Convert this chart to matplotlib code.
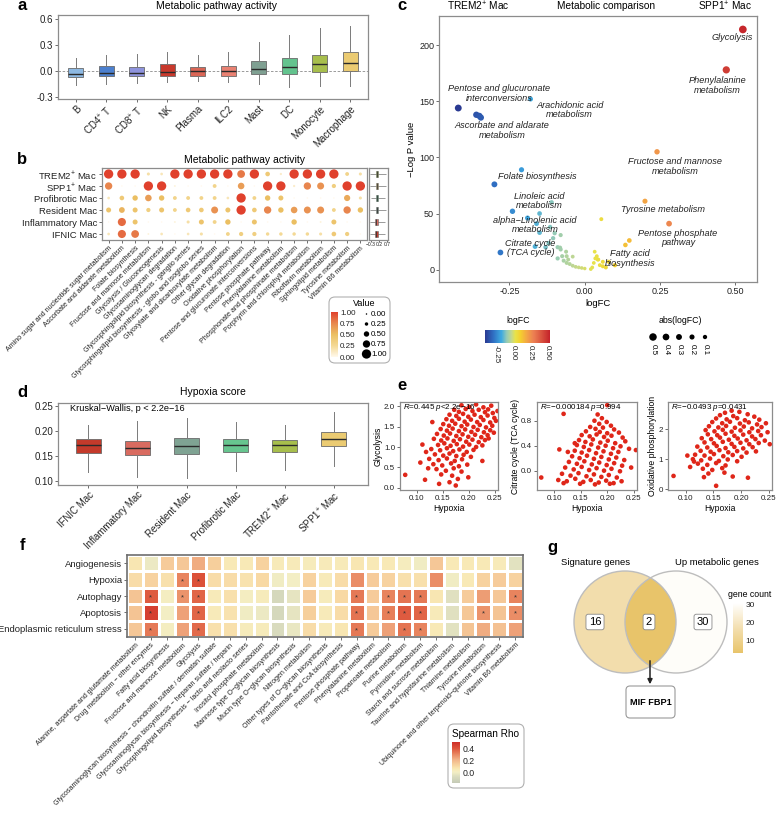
import numpy as np
import matplotlib
matplotlib.use('Agg')
import matplotlib.pyplot as plt
from matplotlib.colors import LinearSegmentedColormap, Normalize
from matplotlib.cm import ScalarMappable
from matplotlib.patches import Circle, FancyBboxPatch
from matplotlib.ticker import FormatStrFormatter

plt.rcParams['font.family'] = ['Liberation Sans', 'DejaVu Sans']
plt.rcParams['mathtext.fontset'] = 'custom'
plt.rcParams['mathtext.rm'] = 'Liberation Sans'
plt.rcParams['mathtext.it'] = 'Liberation Sans:italic'
plt.rcParams['axes.edgecolor'] = '#8c8c8c'
plt.rcParams['axes.linewidth'] = 0.9
plt.rcParams['xtick.color'] = '#555555'
plt.rcParams['ytick.color'] = '#555555'
plt.rcParams['xtick.labelcolor'] = '#222222'
plt.rcParams['ytick.labelcolor'] = '#222222'

# ---------------- data ----------------
# a: pathway activity per cell type (box stats)
a_cells = ['B', 'CD4$^{+}$ T', 'CD8$^{+}$ T', 'NK', 'Plasma', 'ILC2', 'Mast', 'DC', 'Monocyte', 'Macrophage']
a_med = [-0.04, -0.02, -0.02, -0.01, 0.0, 0.0, 0.02, 0.05, 0.08, 0.09]
a_q1 = [-0.07, -0.06, -0.06, -0.06, -0.06, -0.06, -0.03, -0.04, -0.01, 0.0]
a_q3 = [0.03, 0.06, 0.05, 0.08, 0.05, 0.06, 0.12, 0.15, 0.19, 0.22]
a_lo = [-0.16, -0.15, -0.14, -0.13, -0.12, -0.13, -0.15, -0.18, -0.17, -0.17]
a_hi = [0.15, 0.18, 0.20, 0.22, 0.19, 0.22, 0.33, 0.41, 0.50, 0.52]
a_colors = ['#8DB9E3', '#4C80CF', '#8E93DD', '#C8392C', '#DA6656', '#E98172',
            '#7FA092', '#63C38E', '#A7BE4C', '#EBCB72']

# b: dot matrix of pathway activity in macrophage subsets
b_rows = ['TREM2$^{+}$ Mac', 'SPP1$^{+}$ Mac', 'Profibrotic Mac', 'Resident Mac',
          'Inflammatory Mac', 'IFNIC Mac']
b_paths = ['Amino sugar and nucleotide sugar metabolism', 'Ascorbate and aldarate metabolism',
           'Folate biosynthesis', 'Fructose and mannose metabolism', 'Glycolysis / Gluconeogenesis',
           'Glycosaminoglycan degradation', 'Glycosphingolipid biosynthesis - ganglio series',
           'Glycosphingolipid biosynthesis - globo and isoglobo series',
           'Glyoxylate and dicarboxylate metabolism', 'Other glycan degradation',
           'Oxidative phosphorylation', 'Pentose and glucuronate interconversions',
           'Pentose phosphate pathway', 'Phenylalanine metabolism',
           'Phosphonate and phosphinate metabolism', 'Porphyrin and chlorophyll metabolism',
           'Riboflavin metabolism', 'Sphingolipid metabolism', 'Tyrosine metabolism',
           'Vitamin B6 metabolism']
b_trem2 = [1.0, 1.0, 1.0, 0.2, 0.15, 1.0, 1.0, 1.0, 1.0, 1.0, 0.8, 1.0, 0.4, 0.1, 1.0, 1.0, 1.0, 1.0, 0.3, 0.2]
b_spp1 = [0.75, 0.0, 0.0, 1.0, 1.0, 0.05, 0.0, 0.0, 0.3, 0.0, 0.65, 0.0, 1.0, 1.0, 0.1, 0.75, 0.7, 0.35, 1.0, 1.0]
b_profib = [0.15, 0.4, 0.5, 0.65, 0.5, 0.3, 0.3, 0.3, 0.3, 0.15, 1.0, 0.3, 0.5, 0.45, 0.0, 0.0, 0.0, 0.0, 0.6, 0.2]
b_resident = [0.45, 0.55, 0.45, 0.35, 0.45, 0.3, 0.4, 0.4, 0.7, 0.45, 1.0, 0.4, 0.75, 0.5, 0.65, 0.7, 0.7, 0.3, 0.75, 0.5]
b_inflam = [0.0, 0.85, 0.45, 0.0, 0.0, 0.05, 0.2, 0.45, 0.3, 0.5, 0.0, 0.45, 0.0, 0.0, 0.5, 0.0, 0.05, 0.45, 0.0, 0.0]
b_ifnic = [0.15, 0.85, 0.8, 0.05, 0.15, 0.0, 0.15, 0.2, 0.0, 0.3, 0.35, 0.35, 0.25, 0.25, 0.25, 0.25, 0.2, 0.4, 0.35, 0.0]
# small side boxplots per subset
side_med = [0.07, 0.05, 0.06, 0.05, 0.03, 0.03]
side_q1 = [0.0, -0.02, -0.01, -0.02, -0.03, -0.04]
side_q3 = [0.14, 0.12, 0.13, 0.12, 0.10, 0.10]
side_lo = [-0.35, -0.33, -0.32, -0.33, -0.34, -0.36]
side_hi = [0.62, 0.60, 0.58, 0.60, 0.55, 0.55]
mac_colors = ['#A7BE4C', '#EBCB72', '#67C58F', '#7FA393', '#D96B60', '#C43A2B']

# c: metabolic comparison (logFC vs -log P)
c_logfc = [0.525, 0.47, -0.18, -0.42, -0.36, -0.35, -0.345, 0.24, -0.21, -0.30, 0.20, 0.28, 0.148,
           0.135, -0.11, -0.24, -0.19, -0.15, -0.16, -0.15, -0.165, -0.28, 0.055,
           -0.115, -0.10, -0.08, -0.12, -0.105, -0.09, -0.08, -0.075, -0.09, -0.07, -0.06, -0.05,
           -0.04, -0.03, -0.02, -0.01, 0.0, -0.06, -0.055, -0.13, -0.082, -0.062, -0.04,
           0.033, 0.043, 0.08, 0.03, 0.05, 0.04, 0.045, 0.06, 0.07, 0.1, 0.025, 0.02, 0.035, 0.06]
c_logp = [214, 178, 152, 144, 138, 137, 135.5, 105, 89, 76, 61, 41, 26,
          22, 60, 52, 46, 50, 41, 33, 20.6, 15.3, 45,
          38, 32.5, 30.8, 23.6, 28, 20, 18, 12, 10, 8, 6, 5,
          3.5, 2.5, 2, 1.5, 1, 12, 9, 20, 19.6, 16, 11.6,
          16, 9, 7, 6, 4, 12, 9, 3, 2, 4, 2, 0.5, 10, 7]
c_names = ['Glycolysis', 'Phenylalanine\nmetabolism', 'Pentose and glucuronate\ninterconversions',
           'Arachidonic acid\nmetabolism', 'Ascorbate and aldarate\nmetabolism',
           'Fructose and mannose\nmetabolism', 'Folate biosynthesis', 'Tyrosine metabolism',
           'Pentose phosphate\npathway', 'Linoleic acid\nmetabolism',
           'alpha\u2212Linolenic acid\nmetabolism', 'Citrate cycle\n(TCA cycle)', 'Fatty acid\nbiosynthesis']
c_name_pos = [(0.49, 207), (0.44, 164), (-0.285, 157), (-0.05, 142), (-0.275, 124), (0.30, 92),
              (-0.158, 83), (0.26, 54), (0.31, 28), (-0.15, 61), (-0.165, 40), (-0.18, 19.5),
              (0.15, 10)]
c_size_keys = [0.5, 0.4, 0.3, 0.2, 0.1]

# d: hypoxia score per subset (box stats)
d_groups = ['IFNIC Mac', 'Inflammatory Mac', 'Resident Mac', 'Profibrotic Mac',
            'TREM2$^{+}$ Mac', 'SPP1$^{+}$ Mac']
d_med = [0.172, 0.167, 0.171, 0.172, 0.172, 0.184]
d_q1 = [0.157, 0.152, 0.155, 0.159, 0.158, 0.171]
d_q3 = [0.184, 0.181, 0.186, 0.185, 0.182, 0.198]
d_lo = [0.118, 0.108, 0.107, 0.121, 0.122, 0.130]
d_hi = [0.213, 0.221, 0.226, 0.218, 0.213, 0.238]
d_colors = ['#C43A2B', '#D96B60', '#7FA393', '#67C58F', '#A7BE4C', '#EBCB72']

# e: hypoxia vs pathway scores (cells)
e_glyco = [(0.186, 2.02), (0.201, 1.98), (0.214, 2.04), (0.228, 1.97), (0.243, 2.01), (0.237, 1.92),
           (0.172, 1.91), (0.181, 1.86), (0.194, 1.93), (0.207, 1.88), (0.219, 1.91), (0.231, 1.85),
           (0.246, 1.83), (0.163, 1.79), (0.176, 1.76), (0.189, 1.81), (0.199, 1.74), (0.211, 1.79),
           (0.223, 1.73), (0.236, 1.77), (0.249, 1.71), (0.157, 1.68), (0.168, 1.64), (0.181, 1.69),
           (0.192, 1.62), (0.204, 1.67), (0.216, 1.61), (0.228, 1.66), (0.241, 1.60), (0.252, 1.64),
           (0.151, 1.56), (0.162, 1.52), (0.174, 1.57), (0.186, 1.51), (0.197, 1.55), (0.209, 1.49),
           (0.221, 1.54), (0.233, 1.48), (0.245, 1.52), (0.146, 1.44), (0.158, 1.40), (0.169, 1.45),
           (0.181, 1.39), (0.193, 1.43), (0.205, 1.37), (0.217, 1.42), (0.229, 1.36), (0.241, 1.41),
           (0.139, 1.32), (0.152, 1.28), (0.164, 1.33), (0.176, 1.27), (0.188, 1.31), (0.199, 1.25),
           (0.212, 1.30), (0.224, 1.24), (0.236, 1.29), (0.133, 1.20), (0.147, 1.16), (0.159, 1.21),
           (0.171, 1.15), (0.183, 1.19), (0.195, 1.13), (0.207, 1.18), (0.219, 1.12), (0.231, 1.17),
           (0.141, 1.05), (0.153, 1.09), (0.165, 1.03), (0.177, 1.07), (0.189, 1.01), (0.201, 1.06),
           (0.214, 1.00), (0.226, 1.04), (0.128, 0.95), (0.145, 0.92), (0.158, 0.97), (0.170, 0.90),
           (0.182, 0.94), (0.196, 0.88), (0.209, 0.93), (0.135, 0.82), (0.151, 0.79), (0.163, 0.84),
           (0.176, 0.78), (0.190, 0.81), (0.204, 0.76), (0.124, 0.71), (0.142, 0.68), (0.158, 0.72),
           (0.173, 0.66), (0.187, 0.70), (0.226, 0.66), (0.132, 0.58), (0.149, 0.55), (0.166, 0.60),
           (0.181, 0.53), (0.197, 0.57), (0.138, 0.46), (0.156, 0.42), (0.171, 0.48), (0.186, 0.40),
           (0.147, 0.33), (0.168, 0.30), (0.199, 0.26), (0.179, 0.22), (0.116, 0.20), (0.143, 0.10),
           (0.163, 0.14), (0.175, 0.06), (0.078, 0.32), (0.130, 1.61), (0.111, 1.06), (0.118, 0.88),
           (0.107, 0.62), (0.122, 0.48), (0.255, 1.88), (0.238, 1.21), (0.248, 1.35)]
e_tca = [(0.200, 1.05), (0.118, 0.91), (0.182, 0.90), (0.190, 0.84), (0.176, 0.80), (0.199, 0.78),
         (0.185, 0.75), (0.207, 0.72), (0.168, 0.70), (0.178, 0.67), (0.192, 0.69), (0.213, 0.66),
         (0.160, 0.63), (0.186, 0.62), (0.200, 0.60), (0.222, 0.61), (0.152, 0.57), (0.167, 0.55),
         (0.180, 0.58), (0.194, 0.54), (0.208, 0.56), (0.229, 0.53), (0.147, 0.49), (0.159, 0.46),
         (0.173, 0.50), (0.187, 0.45), (0.201, 0.48), (0.215, 0.44), (0.234, 0.47), (0.143, 0.41),
         (0.156, 0.38), (0.170, 0.42), (0.183, 0.37), (0.197, 0.40), (0.211, 0.36), (0.225, 0.39),
         (0.241, 0.35), (0.110, 0.34), (0.139, 0.32), (0.152, 0.29), (0.166, 0.33), (0.179, 0.28),
         (0.193, 0.31), (0.207, 0.27), (0.221, 0.30), (0.254, 0.33), (0.134, 0.23), (0.148, 0.20),
         (0.162, 0.24), (0.175, 0.19), (0.189, 0.22), (0.203, 0.18), (0.217, 0.21), (0.232, 0.17),
         (0.128, 0.14), (0.143, 0.11), (0.157, 0.15), (0.171, 0.10), (0.185, 0.13), (0.199, 0.09),
         (0.213, 0.12), (0.228, 0.08), (0.121, 0.05), (0.137, 0.02), (0.152, 0.06), (0.166, 0.01),
         (0.180, 0.04), (0.194, 0.00), (0.208, 0.03), (0.224, -0.01), (0.245, 0.05), (0.115, -0.05),
         (0.131, -0.08), (0.146, -0.04), (0.161, -0.09), (0.175, -0.06), (0.189, -0.10), (0.203, -0.07),
         (0.218, -0.11), (0.108, -0.15), (0.124, -0.17), (0.140, -0.13), (0.155, -0.18), (0.169, -0.15),
         (0.184, -0.19), (0.198, -0.16), (0.212, -0.20), (0.227, -0.17), (0.118, -0.20), (0.149, -0.21),
         (0.177, -0.22), (0.205, -0.21), (0.076, -0.11), (0.139, 0.44), (0.126, 0.30)]
e_oxphos = [(0.183, 2.62), (0.171, 2.55), (0.197, 2.58), (0.212, 2.50), (0.162, 2.47), (0.186, 2.44),
            (0.224, 2.42), (0.155, 2.36), (0.174, 2.33), (0.193, 2.37), (0.207, 2.30), (0.233, 2.32),
            (0.148, 2.24), (0.166, 2.20), (0.180, 2.25), (0.198, 2.19), (0.214, 2.23), (0.229, 2.16),
            (0.245, 2.20), (0.142, 2.10), (0.159, 2.06), (0.173, 2.11), (0.189, 2.05), (0.205, 2.09),
            (0.220, 2.03), (0.237, 2.07), (0.136, 1.97), (0.152, 1.93), (0.167, 1.98), (0.183, 1.92),
            (0.199, 1.96), (0.215, 1.90), (0.231, 1.94), (0.248, 1.90), (0.140, 1.83), (0.157, 1.80),
            (0.172, 1.85), (0.188, 1.78), (0.204, 1.82), (0.220, 1.76), (0.236, 1.80), (0.129, 1.70),
            (0.146, 1.67), (0.162, 1.72), (0.178, 1.65), (0.194, 1.69), (0.210, 1.63), (0.226, 1.67),
            (0.243, 1.62), (0.134, 1.56), (0.151, 1.53), (0.167, 1.58), (0.183, 1.51), (0.199, 1.55),
            (0.215, 1.50), (0.232, 1.54), (0.252, 1.50), (0.121, 1.42), (0.139, 1.39), (0.156, 1.44),
            (0.172, 1.37), (0.188, 1.41), (0.204, 1.36), (0.221, 1.40), (0.127, 1.28), (0.145, 1.25),
            (0.161, 1.30), (0.177, 1.23), (0.193, 1.27), (0.210, 1.22), (0.227, 1.26), (0.117, 1.15),
            (0.134, 1.12), (0.151, 1.17), (0.168, 1.10), (0.185, 1.14), (0.201, 1.08), (0.113, 1.00),
            (0.128, 0.96), (0.144, 1.02), (0.160, 0.94), (0.176, 0.99), (0.193, 0.93), (0.122, 0.85),
            (0.139, 0.81), (0.155, 0.87), (0.172, 0.79), (0.108, 0.74), (0.131, 0.68), (0.148, 0.64),
            (0.166, 0.70), (0.170, 0.55), (0.141, 0.52), (0.078, 0.44), (0.155, 0.11), (0.2125, 0.38),
            (0.185, 0.42), (0.133, 0.40), (0.115, 0.92), (0.103, 1.12)]
e_stats = ['$R$=0.445 $p$<2.2e\u221216', '$R$=\u22120.000184 $p$=0.994', '$R$=\u22120.0493 $p$=0.0431']
e_ylabels = ['Glycolysis', 'Citrate cycle (TCA cycle)', 'Oxidative phosphorylation']

# f: Spearman rho between hallmark scores and pathways
f_rows = ['Angiogenesis', 'Hypoxia', 'Autophagy', 'Apoptosis', 'Endoplasmic reticulum stress']
f_paths = ['Alanine, aspartate and glutamate metabolism', 'Drug metabolism \u2212 other enzymes',
           'Fatty acid biosynthesis', 'Fructose and mannose metabolism', 'Glycolysis',
           'Glycosaminoglycan biosynthesis \u2212 chondroitin sulfate / dermatan sulfate',
           'Glycosaminoglycan biosynthesis \u2212 heparan sulfate / heparin',
           'Glycosphingolipid biosynthesis \u2212 lacto and neolacto series',
           'Inositol phosphate metabolism', 'Mannose type O\u2212glycan biosynthesis',
           'Mucin type O\u2212glycan biosynthesis', 'Nitrogen metabolism',
           'Other types of O\u2212glycan biosynthesis', 'Pantothenate and CoA biosynthesis',
           'Pentose phosphate pathway', 'Phenylalanine metabolism', 'Propanoate metabolism',
           'Purine metabolism', 'Pyrimidine metabolism', 'Starch and sucrose metabolism',
           'Taurine and hypotaurine metabolism', 'Thiamine metabolism', 'Tyrosine metabolism',
           'Ubiquinone and other terpenoid\u2212quinone biosynthesis', 'Vitamin B6 metabolism']
f_angio = [0.06, -0.02, 0.14, 0.15, 0.22, 0.13, 0.05, 0.05, 0.12, 0.04, 0.04, 0.03, 0.04, 0.04, 0.06,
           0.05, 0.05, 0.02, -0.01, 0.15, 0.05, 0.05, 0.05, 0.04, -0.05]
f_hypoxia = [0.09, 0.12, 0.08, 0.30, 0.40, 0.09, 0.09, 0.07, 0.10, -0.01, 0.0, 0.12, 0.04, 0.09, 0.28,
             0.14, 0.12, 0.08, 0.08, 0.28, -0.01, 0.05, 0.12, 0.14, 0.12]
f_autoph = [0.16, 0.38, 0.01, 0.27, 0.36, 0.04, 0.08, 0.01, 0.03, -0.10, -0.04, 0.14, 0.03, 0.10, 0.32,
            0.14, 0.30, 0.33, 0.32, 0.06, -0.06, 0.14, 0.25, 0.15, 0.30]
f_apopt = [0.16, 0.45, 0.0, 0.24, 0.36, 0.04, 0.07, -0.01, -0.02, -0.10, -0.04, 0.13, 0.04, 0.09, 0.33,
           0.15, 0.31, 0.38, 0.36, 0.04, -0.06, 0.15, 0.27, 0.16, 0.28]
f_er = [0.15, 0.32, 0.01, 0.24, 0.35, 0.08, 0.08, 0.03, 0.03, -0.08, -0.03, 0.09, 0.04, 0.06, 0.32,
        0.14, 0.24, 0.33, 0.30, 0.05, -0.05, 0.16, 0.22, 0.17, 0.24]
# significant cells (row index, column index)
f_signif = [(1, 3), (1, 4),
            (2, 1), (2, 3), (2, 4), (2, 14), (2, 16), (2, 17), (2, 18), (2, 24),
            (3, 1), (3, 4), (3, 14), (3, 16), (3, 17), (3, 18), (3, 22), (3, 24),
            (4, 1), (4, 4), (4, 14), (4, 17), (4, 18)]

# g: Venn counts
g_sets = ['Signature genes', 'Up metabolic genes']
g_counts = [16, 2, 30]   # only signature, shared, only metabolic
g_shared = 'MIF FBP1'

# ---------------- layout helpers ----------------
W, H = 777, 813
fig = plt.figure(figsize=(W / 100, H / 100), dpi=100)


def rect(x0, y0, x1, y1):
    return [x0 / W, 1 - y1 / H, (x1 - x0) / W, (y1 - y0) / H]


# overlay in pixel coordinates for titles, legends and the Venn
ov = fig.add_axes([0, 0, 1, 1])
ov.set_xlim(0, W)
ov.set_ylim(H, 0)
ov.axis('off')
ov.patch.set_alpha(0)


def style(ax, size=6.5):
    ax.tick_params(length=2, width=0.6, pad=1.5, labelsize=size)
    for s in ax.spines.values():
        s.set_color('#8c8c8c')


def boxes(ax, med, q1, q3, lo, hi, colors, width):
    stats = [dict(med=m, q1=a, q3=b, whislo=l, whishi=h, fliers=[])
             for m, a, b, l, h in zip(med, q1, q3, lo, hi)]
    bp = ax.bxp(stats, positions=range(len(stats)), widths=width, patch_artist=True,
                showcaps=False, manage_ticks=False,
                boxprops=dict(lw=0.6, edgecolor='#6a6a6a'),
                whiskerprops=dict(color='#7a7a7a', lw=0.7),
                medianprops=dict(color='#2a2a2a', lw=1.0))
    for p, c in zip(bp['boxes'], colors):
        p.set_facecolor(c)


letters = [('a', 22, 6), ('b', 22, 160), ('c', 402, 6), ('d', 22, 392), ('e', 402, 385),
           ('f', 22, 545), ('g', 552, 547)]
for t, x, y in letters:
    ov.text(x, y, t, fontsize=12, fontweight='bold', ha='center', va='center')

# ---------------- a ----------------
ax = fig.add_axes(rect(58, 15, 368, 99))
boxes(ax, a_med, a_q1, a_q3, a_lo, a_hi, a_colors, 0.5)
ax.axhline(0, ls=(0, (3, 2)), color='#8a8a8a', lw=0.6, zorder=0)
ax.set_xlim(-0.58, 9.58)
ax.set_ylim(-0.323, 0.646)
ax.set_yticks([-0.3, 0.0, 0.3, 0.6])
ax.yaxis.set_major_formatter(FormatStrFormatter('%.1f'))
ax.set_xticks(range(len(a_cells)))
ax.set_xticklabels(a_cells, rotation=45, ha='right', rotation_mode='anchor')
style(ax, 7)
ov.text(217, 6, 'Metabolic pathway activity', fontsize=7.5, ha='center', va='center')

# ---------------- b ----------------
b_cmap = LinearSegmentedColormap.from_list('val', ['#FFF9EC', '#F4D995', '#EBBF62', '#E8874E', '#E0412D'])
b_vals = np.array([b_trem2, b_spp1, b_profib, b_resident, b_inflam, b_ifnic])


def b_size(v):
    return ((1.5 + 7.8 * np.asarray(v)) / 1.389) ** 2


ax = fig.add_axes(rect(102, 168, 367, 240))
yy, xx = np.meshgrid(np.arange(len(b_rows)), np.arange(len(b_paths)), indexing='ij')
ax.scatter(xx.ravel(), yy.ravel(), s=b_size(b_vals.ravel()), c=b_vals.ravel(), cmap=b_cmap,
           vmin=0, vmax=1, edgecolors='none')
ax.set_xlim(-0.5, len(b_paths) - 0.5)
ax.set_ylim(len(b_rows) - 0.5, -0.5)
ax.set_xticks(range(len(b_paths)))
ax.set_xticklabels(b_paths, rotation=45, ha='right', rotation_mode='anchor', fontsize=5.1)
ax.set_yticks(range(len(b_rows)))
ax.set_yticklabels(b_rows, fontsize=6.8)
style(ax, 6.8)
ax.tick_params(axis='x', labelsize=5.1)
ov.text(244, 160, 'Metabolic pathway activity', fontsize=7.5, ha='center', va='center')

axs = fig.add_axes(rect(369, 168, 388, 240))
ry = np.arange(len(b_rows))
axs.hlines(ry, side_lo, side_hi, color='#8a8a8a', lw=0.6)
axs.barh(ry, np.array(side_q3) - np.array(side_q1), left=side_q1, height=0.5,
         color=mac_colors, edgecolor='#666666', lw=0.4, zorder=2)
axs.vlines(side_med, ry - 0.25, ry + 0.25, color='#333333', lw=0.6, zorder=3)
axs.set_xlim(-0.42, 0.74)
axs.set_ylim(len(b_rows) - 0.5, -0.5)
axs.set_yticks([])
axs.set_xticks([-0.3, 0.2, 0.7])
axs.set_xticklabels(['\u22120.3', '0.2', '0.7'])
style(axs, 3.6)
axs.tick_params(axis='x', length=1.2, pad=0.5)

# legend "Value"
ov.add_patch(FancyBboxPatch((329, 297), 61, 66, boxstyle='round,pad=0,rounding_size=6',
                            fc='none', ec='#b0b0b0', lw=0.8))
ov.text(364, 303, 'Value', fontsize=6.5, ha='center', va='center')
cax = fig.add_axes(rect(331, 312, 338, 357))
cb = fig.colorbar(ScalarMappable(Normalize(0, 1), b_cmap), cax=cax)
cb.set_ticks([0, 0.25, 0.5, 0.75, 1.0])
cb.ax.yaxis.set_major_formatter(FormatStrFormatter('%.2f'))
cb.ax.tick_params(labelsize=5.8, length=0, pad=1.5)
cb.outline.set_visible(False)
leg_vals = [0.0, 0.25, 0.5, 0.75, 1.0]
leg_y = np.linspace(314, 354, len(leg_vals))
ov.scatter(np.full(len(leg_vals), 366.5), leg_y, s=b_size(leg_vals), c='black', edgecolors='none')
for v, y in zip(leg_vals, leg_y):
    ov.text(371, y, f'{v:.2f}', fontsize=5.8, va='center', ha='left')

# ---------------- c ----------------
c_vmin, c_vmax = -0.42, 0.54
c_stops = [(-0.42, '#2A3A92'), (-0.30, '#2F6EC2'), (-0.18, '#3EA9E0'), (-0.10, '#95CBB6'),
           (-0.03, '#C3D88E'), (0.03, '#E8E24A'), (0.10, '#F4D02E'), (0.20, '#F3A545'),
           (0.30, '#EC7F52'), (0.54, '#C4232A')]
c_cmap = LinearSegmentedColormap.from_list(
    'lfc', [((v - c_vmin) / (c_vmax - c_vmin), col) for v, col in c_stops])


def c_size(v):
    return ((3.5 + 8.0 * np.abs(np.asarray(v))) / 1.389) ** 2


ax = fig.add_axes(rect(439, 16, 757, 282))
ax.scatter(c_logfc, c_logp, s=c_size(c_logfc), c=c_logfc, cmap=c_cmap, vmin=c_vmin, vmax=c_vmax,
           edgecolors='none', zorder=3)
for name, (x, y) in zip(c_names, c_name_pos):
    ax.text(x, y, name, fontsize=6.6, style='italic', ha='center', va='center',
            linespacing=1.05, color='#222222', zorder=4)
ax.set_xlim(-0.484, 0.572)
ax.set_ylim(-11, 226)
ax.set_xticks([-0.25, 0, 0.25, 0.5])
ax.xaxis.set_major_formatter(FormatStrFormatter('%.2f'))
ax.set_yticks([0, 50, 100, 150, 200])
ax.set_xlabel('logFC', fontsize=6.8, labelpad=2)
ax.set_ylabel('\u2212Log P value', fontsize=6.8, labelpad=2)
style(ax, 6.5)
ov.text(478, 6, 'TREM2$^{+}$ Mac', fontsize=7.3, ha='center', va='center')
ov.text(606, 6, 'Metabolic comparison', fontsize=7.3, ha='center', va='center')
ov.text(725, 6, 'SPP1$^{+}$ Mac', fontsize=7.3, ha='center', va='center')

# legends of c
ov.text(518, 320, 'logFC', fontsize=6.3, ha='center', va='center')
cax = fig.add_axes(rect(485, 330, 550, 343))
cb = fig.colorbar(ScalarMappable(Normalize(c_vmin, c_vmax), c_cmap), cax=cax, orientation='horizontal')
cb.set_ticks([-0.25, 0, 0.25, 0.5])
cb.ax.xaxis.set_major_formatter(FormatStrFormatter('%.2f'))
cb.ax.tick_params(labelsize=5.8, length=0, pad=1.5, labelrotation=-90)
cb.outline.set_visible(False)
ov.text(680, 320, 'abs(logFC)', fontsize=6.3, ha='center', va='center')
kx = np.linspace(653, 705, len(c_size_keys))
ov.scatter(kx, np.full(len(kx), 337), s=c_size(c_size_keys), c='black', edgecolors='none')
for v, x in zip(c_size_keys, kx):
    ov.text(x, 344, f'{v:.1f}', fontsize=5.8, rotation=-90, ha='center', va='top')

# ---------------- d ----------------
ax = fig.add_axes(rect(58, 403, 368, 485))
boxes(ax, d_med, d_q1, d_q3, d_lo, d_hi, d_colors, 0.5)
ax.set_xlim(-0.62, 5.7)
ax.set_ylim(0.092, 0.256)
ax.set_yticks([0.10, 0.15, 0.20, 0.25])
ax.yaxis.set_major_formatter(FormatStrFormatter('%.2f'))
ax.set_xticks(range(len(d_groups)))
ax.set_xticklabels(d_groups, rotation=45, ha='right', rotation_mode='anchor')
style(ax, 7)
ax.text(0.04, 0.93, 'Kruskal\u2212Wallis, p < 2.2e\u221216', transform=ax.transAxes,
        fontsize=6.6, va='center', ha='left')
ov.text(213, 392, 'Hypoxia score', fontsize=7.5, ha='center', va='center')

# ---------------- e ----------------
e_sets = [e_glyco, e_tca, e_oxphos]
e_rects = [(400, 402, 498, 490), (537, 402, 637, 490), (668, 402, 772, 490)]
e_ylims = [(-0.05, 2.1), (-0.31, 1.1), (-0.03, 2.91)]
e_yticks = [([0, 0.5, 1, 1.5, 2], '%.1f'), ([0, 0.4, 0.8], '%.1f'), ([0, 1, 2], '%d')]
for pts, r, yl, (yt, fmt), lab, stat in zip(e_sets, e_rects, e_ylims, e_yticks, e_ylabels, e_stats):
    ax = fig.add_axes(rect(*r))
    arr = np.array(pts)
    ax.scatter(arr[:, 0], arr[:, 1], s=11, c='#DF2619', edgecolors='none')
    ax.set_xlim(0.068, 0.256)
    ax.set_ylim(*yl)
    ax.set_xticks([0.10, 0.15, 0.20, 0.25])
    ax.xaxis.set_major_formatter(FormatStrFormatter('%.2f'))
    ax.set_yticks(yt)
    ax.yaxis.set_major_formatter(FormatStrFormatter(fmt))
    ax.set_xlabel('Hypoxia', fontsize=6.2, labelpad=1.5)
    ax.set_ylabel(lab, fontsize=6.2, labelpad=1)
    style(ax, 5.8)
    ax.text(0.03, 0.94, stat, transform=ax.transAxes, fontsize=5.8, va='center', ha='left')

# ---------------- f ----------------
rho_vmin, rho_vmax = -0.18, 0.5
rho_stops = [(-0.18, '#C4CAB6'), (-0.08, '#D9DBBE'), (0.0, '#F3EEC4'), (0.05, '#F8E9B6'),
             (0.10, '#F8D9A4'), (0.20, '#F2B68A'), (0.30, '#E8845E'), (0.40, '#DC5138'),
             (0.50, '#CE2E28')]
rho_cmap = LinearSegmentedColormap.from_list(
    'rho', [((v - rho_vmin) / (rho_vmax - rho_vmin), col) for v, col in rho_stops])
rho = np.array([f_angio, f_hypoxia, f_autoph, f_apopt, f_er])

ax = fig.add_axes(rect(127, 555, 523, 637))
ax.pcolormesh(np.arange(len(f_paths) + 1), np.arange(len(f_rows) + 1), rho, cmap=rho_cmap,
              vmin=rho_vmin, vmax=rho_vmax, edgecolors='white', linewidth=1.0)
for r, c in f_signif:
    ax.text(c + 0.5, r + 0.62, '*', ha='center', va='center', fontsize=5.5, color='#333333')
ax.set_xlim(0, len(f_paths))
ax.set_ylim(len(f_rows), 0)
ax.set_xticks(np.arange(len(f_paths)) + 0.5)
ax.set_xticklabels(f_paths, rotation=45, ha='right', rotation_mode='anchor')
ax.set_yticks(np.arange(len(f_rows)) + 0.5)
ax.set_yticklabels(f_rows)
style(ax, 6.8)
ax.tick_params(axis='x', labelsize=5.0)
for s in ax.spines.values():
    s.set_color('#6e6e6e')
    s.set_linewidth(1.2)

ov.add_patch(FancyBboxPatch((448, 724), 76, 64, boxstyle='round,pad=0,rounding_size=6',
                            fc='none', ec='#b0b0b0', lw=0.8))
ov.text(486, 734, 'Spearman Rho', fontsize=7.2, ha='center', va='center')
cax = fig.add_axes(rect(452, 742, 460, 783))
cb = fig.colorbar(ScalarMappable(Normalize(rho_vmin, rho_vmax), rho_cmap), cax=cax)
cb.set_ticks([0.0, 0.2, 0.4])
cb.ax.yaxis.set_major_formatter(FormatStrFormatter('%.1f'))
cb.ax.tick_params(labelsize=6.3, length=0, pad=2)
cb.outline.set_visible(False)

# ---------------- g ----------------
g_norm = Normalize(2.6, 31.1)
g_cmap = LinearSegmentedColormap.from_list('gc', ['#E8C46A', '#F3DFB0', '#FFFFFF'])
r_c = 51
lc, rc = (625, 622), (676, 622)
left = Circle(lc, r_c, fc=g_cmap(g_norm(g_counts[0])), ec='none', zorder=1)
right = Circle(rc, r_c, fc=g_cmap(g_norm(g_counts[2])), ec='none', zorder=1)
ov.add_patch(left)
ov.add_patch(right)
lens = Circle(lc, r_c, fc=g_cmap(g_norm(g_counts[1])), ec='none', zorder=2)
ov.add_patch(lens)
lens.set_clip_path(right)
for ctr in (lc, rc):
    ov.add_patch(Circle(ctr, r_c, fc='none', ec='#bdbdbd', lw=1.0, zorder=3))
for n, x in zip(g_counts, (595, 649, 703)):
    ov.text(x, 622, str(n), fontsize=8, ha='center', va='center', zorder=4,
            bbox=dict(boxstyle='round,pad=0.25,rounding_size=0.2', fc='white', ec='#8a8a8a', lw=0.6))
ov.text(596, 562, g_sets[0], fontsize=6.8, ha='center', va='center')
ov.text(717, 562, g_sets[1], fontsize=6.8, ha='center', va='center')
ov.annotate('', xy=(650, 687), xytext=(650, 658),
            arrowprops=dict(arrowstyle='-|>', color='#222222', lw=1.1, mutation_scale=7), zorder=5)
ov.add_patch(FancyBboxPatch((626, 686), 49, 32, boxstyle='round,pad=0,rounding_size=4',
                            fc='white', ec='#9a9a9a', lw=0.8, zorder=4))
ov.text(650.5, 702, g_shared, fontsize=6.6, fontweight='bold', ha='center', va='center', zorder=5)

ov.text(750, 594, 'gene count', fontsize=6.3, ha='center', va='center')
cax = fig.add_axes(rect(733, 603, 743, 653))
cb = fig.colorbar(ScalarMappable(g_norm, g_cmap), cax=cax)
cb.set_ticks([10, 20, 30])
cb.ax.tick_params(labelsize=6.0, length=0, pad=2)
cb.outline.set_visible(False)

fig.savefig('out.png', dpi=100)
